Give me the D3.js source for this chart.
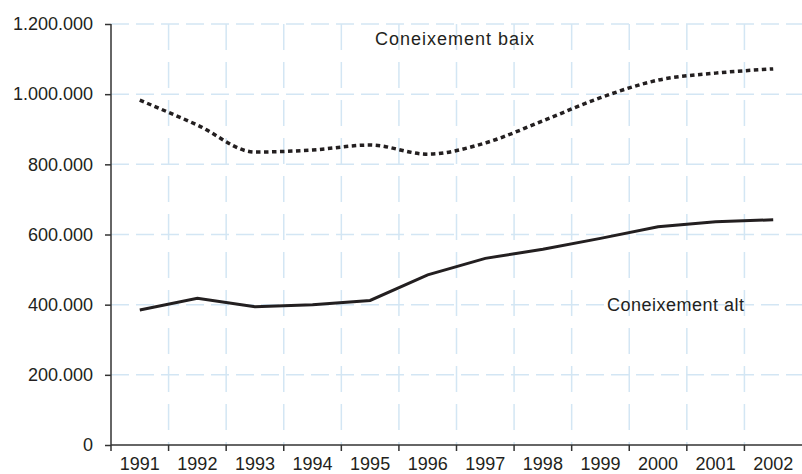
<!DOCTYPE html>
<html>
<head>
<meta charset="utf-8">
<script src="https://cdn.jsdelivr.net/npm/d3@7"></script>
<style>
  body { margin: 0; background: #fff; }
  svg { display: block; font-family: "Liberation Sans", Arial, Helvetica, sans-serif; }
</style>
</head>
<body>
<svg width="802" height="474"></svg>
<script>
const years = ["1991","1992","1993","1994","1995","1996","1997","1998","1999","2000","2001","2002"];
const baix = [983000, 912000, 835000, 841000, 855000, 829000, 861000, 924000, 990000, 1040000, 1060000, 1072000];
const alt = [385000, 418000, 394000, 400000, 412000, 485000, 532000, 558000, 589000, 622000, 636000, 642000];
const yTicks = [0, 200000, 400000, 600000, 800000, 1000000, 1200000];

const svg = d3.select("svg");
const mLeft = 111, mRight = 802, mTop = 24, mBottom = 445;

const x = d3.scaleBand().domain(years).range([mLeft, mRight]).padding(0);
const y = d3.scaleLinear().domain([0, 1200000]).range([mBottom, mTop]);

const fmt = d3.formatLocale({ decimal: ",", thousands: ".", grouping: [3], currency: ["", "€"] }).format(",d");
const gridColor = "#d3e6f4";
const ink = "#231f20";

// horizontal grid
svg.append("g")
  .selectAll("line")
  .data(yTicks.filter(d => d > 0))
  .join("line")
  .attr("x1", mLeft).attr("x2", mRight)
  .attr("y1", d => y(d)).attr("y2", d => y(d))
  .attr("stroke", gridColor)
  .attr("stroke-width", 1.5)
  .attr("stroke-dasharray", "18,7");

// vertical grid at band edges
svg.append("g")
  .selectAll("line")
  .data(years.slice(1))
  .join("line")
  .attr("x1", d => x(d)).attr("x2", d => x(d))
  .attr("y1", mTop).attr("y2", mBottom)
  .attr("stroke", gridColor)
  .attr("stroke-width", 1.5)
  .attr("stroke-dasharray", "26,12");

// y axis
const yAxis = svg.append("g")
  .attr("transform", `translate(${mLeft},0)`)
  .call(d3.axisLeft(y).tickValues(yTicks).tickFormat(fmt).tickSize(6).tickPadding(12));
yAxis.select(".domain").attr("stroke", "#333").attr("stroke-width", 1.5).attr("d", `M0,${mTop}V${mBottom}`);
yAxis.selectAll(".tick line").attr("stroke", "#333").attr("stroke-width", 1.5);
yAxis.selectAll("text").attr("fill", ink).style("font-size", "18px");

// x axis, ticks at band edges
const xAxis = svg.append("g").attr("transform", `translate(0,${mBottom})`);
xAxis.append("line")
  .attr("x1", mLeft).attr("x2", mRight)
  .attr("stroke", "#333").attr("stroke-width", 1.5);
xAxis.selectAll(".xt")
  .data(years)
  .join("line")
  .attr("class", "xt")
  .attr("x1", d => x(d)).attr("x2", d => x(d))
  .attr("y1", 0).attr("y2", 6)
  .attr("stroke", "#333").attr("stroke-width", 1.5);
xAxis.selectAll("text")
  .data(years)
  .join("text")
  .attr("x", d => x(d) + x.bandwidth() / 2)
  .attr("y", 25)
  .attr("text-anchor", "middle")
  .attr("fill", ink)
  .style("font-size", "18px")
  .text(d => d);

const cx = d => x(d) + x.bandwidth() / 2;

const lineBaix = d3.line()
  .x((d, i) => cx(years[i]))
  .y(d => y(d))
  .curve(d3.curveMonotoneX);

const lineAlt = d3.line()
  .x((d, i) => cx(years[i]))
  .y(d => y(d));

svg.append("path")
  .datum(baix)
  .attr("d", lineBaix)
  .attr("fill", "none")
  .attr("stroke", ink)
  .attr("stroke-width", 3.5)
  .attr("stroke-dasharray", "4.5,3.5");

svg.append("path")
  .datum(alt)
  .attr("d", lineAlt)
  .attr("fill", "none")
  .attr("stroke", ink)
  .attr("stroke-width", 3);

svg.append("text")
  .attr("x", 375).attr("y", 45)
  .attr("fill", ink)
  .style("font-size", "18px")
  .style("letter-spacing", "1px")
  .text("Coneixement baix");

svg.append("text")
  .attr("x", 607).attr("y", 311)
  .attr("fill", ink)
  .style("font-size", "18px")
  .style("letter-spacing", "0.5px")
  .text("Coneixement alt");
</script>
</body>
</html>
